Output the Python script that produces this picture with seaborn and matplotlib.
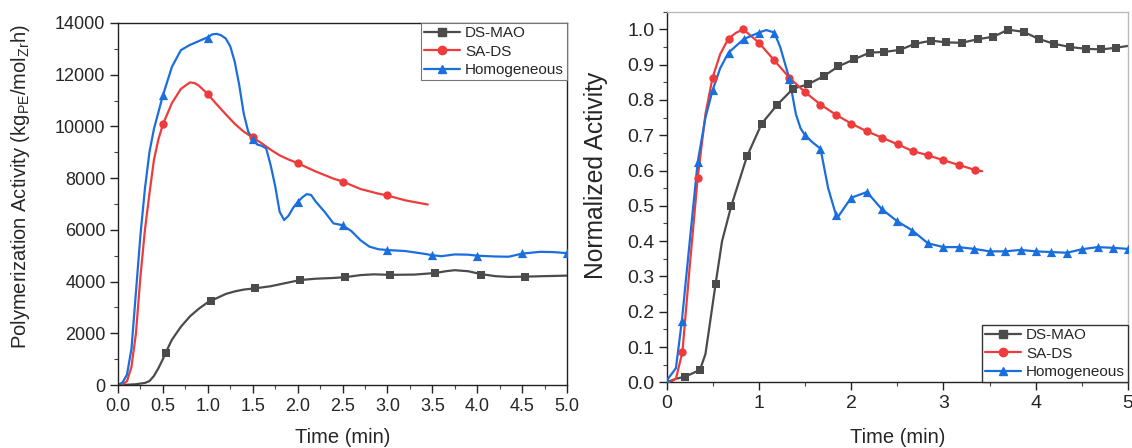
import matplotlib
matplotlib.use("Agg")
import matplotlib.pyplot as plt
from matplotlib.lines import Line2D
from matplotlib.ticker import MultipleLocator
import seaborn as sns

# ---- left panel: polymerization activity (kg_PE / mol_Zr h) ----
homo_t = [0, 0.05, 0.1, 0.15, 0.2, 0.25, 0.3, 0.35, 0.4, 0.5, 0.6, 0.7, 0.8, 0.9, 1.0,
          1.05, 1.1, 1.15, 1.2, 1.25, 1.3, 1.35, 1.4, 1.45, 1.5, 1.55, 1.6, 1.65, 1.7,
          1.75, 1.8, 1.85, 1.9, 1.95, 2.0, 2.05, 2.1, 2.15, 2.2, 2.3, 2.4, 2.5, 2.6,
          2.7, 2.8, 2.9, 3.0, 3.2, 3.4, 3.5, 3.6, 3.75, 3.9, 4.0, 4.2, 4.35, 4.5, 4.7,
          4.85, 5.0]
homo_v = [0, 100, 400, 1400, 3600, 5800, 7600, 9000, 9900, 11200, 12300, 12950, 13150,
          13300, 13450, 13560, 13580, 13520, 13400, 13100, 12500, 11600, 10500, 9800,
          9500, 9300, 9250, 9150, 8500, 7700, 6700, 6380, 6550, 6850, 7070, 7250, 7380,
          7350, 7100, 6700, 6250, 6180, 5950, 5600, 5350, 5250, 5220, 5180, 5080, 5020,
          4980, 5050, 5040, 5000, 4970, 4960, 5080, 5150, 5140, 5100]
homo_mark_t = [0.5, 1.0, 1.5, 2.0, 2.5, 3.0, 3.5, 4.0, 4.5, 5.0]
homo_mark_v = [11200, 13430, 9520, 7070, 6200, 5225, 5010, 5000, 5100, 5100]

sads_t = [0.0, 0.05, 0.1, 0.15, 0.2, 0.25, 0.3, 0.35, 0.4, 0.45, 0.5, 0.6, 0.7, 0.8,
          0.85, 0.9, 1.0, 1.1, 1.2, 1.3, 1.4, 1.5, 1.6, 1.7, 1.8, 1.9, 2.0, 2.2, 2.4,
          2.5, 2.7, 2.9, 3.0, 3.2, 3.45]
sads_v = [0, 20, 150, 700, 2000, 4200, 6000, 7400, 8700, 9500, 10080, 10900, 11450,
          11700, 11680, 11580, 11250, 10850, 10470, 10100, 9800, 9570, 9350, 9100, 8880,
          8720, 8580, 8260, 7980, 7870, 7580, 7400, 7330, 7140, 6980]
sads_mark_t = [0.5, 1.0, 1.5, 2.0, 2.5, 3.0]
sads_mark_v = [10080, 11240, 9590, 8580, 7870, 7330]

dsmao_t = [0, 0.1, 0.2, 0.3, 0.35, 0.4, 0.45, 0.5, 0.53, 0.6, 0.7, 0.8, 0.9, 1.0, 1.04,
           1.1, 1.2, 1.3, 1.4, 1.53, 1.7, 1.85, 2.03, 2.2, 2.4, 2.53, 2.7, 2.85, 3.03,
           3.3, 3.53, 3.65, 3.75, 3.9, 4.04, 4.2, 4.35, 4.53, 4.75, 5.0]
dsmao_v = [0, 10, 30, 80, 150, 350, 650, 1000, 1240, 1750, 2250, 2650, 2950, 3200, 3260,
           3360, 3520, 3620, 3690, 3740, 3820, 3930, 4060, 4110, 4140, 4170, 4250, 4280,
           4260, 4270, 4330, 4400, 4440, 4400, 4290, 4210, 4180, 4190, 4210, 4230]
dsmao_mark_t = [0.53, 1.04, 1.53, 2.03, 2.53, 3.03, 3.53, 4.04, 4.53]
dsmao_mark_v = [1240, 3240, 3740, 4060, 4170, 4260, 4320, 4270, 4190]

# ---- right panel: normalized activity ----
n_dsmao_mark_t = [0.2, 0.36, 0.53, 0.7, 0.87, 1.03, 1.2, 1.37, 1.53, 1.7, 1.86, 2.03,
                  2.2, 2.36, 2.53, 2.69, 2.87, 3.03, 3.2, 3.37, 3.54, 3.7, 3.87, 4.03,
                  4.2, 4.37, 4.54, 4.71, 4.87]
n_dsmao_mark_v = [0.016, 0.035, 0.279, 0.50, 0.64, 0.733, 0.787, 0.832, 0.844, 0.867,
                  0.895, 0.915, 0.934, 0.936, 0.942, 0.959, 0.968, 0.963, 0.962, 0.972,
                  0.979, 0.999, 0.993, 0.973, 0.959, 0.950, 0.945, 0.943, 0.948]
n_dsmao_t = [0, 0.1, 0.2, 0.36, 0.42, 0.47, 0.53, 0.6, 0.7, 0.87, 1.03, 1.2, 1.37, 1.53,
             1.7, 1.86, 2.03, 2.2, 2.36, 2.53, 2.69, 2.87, 3.03, 3.2, 3.37, 3.54, 3.7,
             3.87, 4.03, 4.2, 4.37, 4.54, 4.71, 4.87, 5.0]
n_dsmao_v = [0, 0.01, 0.016, 0.035, 0.08, 0.17, 0.279, 0.40, 0.50, 0.64, 0.733, 0.787,
             0.832, 0.844, 0.867, 0.895, 0.915, 0.934, 0.936, 0.942, 0.959, 0.968, 0.963,
             0.962, 0.972, 0.979, 0.999, 0.993, 0.973, 0.959, 0.950, 0.945, 0.943, 0.948,
             0.953]

n_sads_mark_t = [0.17, 0.336, 0.497, 0.67, 0.83, 1.0, 1.166, 1.33, 1.5, 1.667, 1.835,
                 2.0, 2.17, 2.336, 2.504, 2.668, 2.836, 3.0, 3.165, 3.337]
n_sads_mark_v = [0.085, 0.579, 0.863, 0.974, 1.0, 0.962, 0.912, 0.863, 0.822, 0.787,
                 0.758, 0.733, 0.711, 0.693, 0.674, 0.655, 0.643, 0.629, 0.616, 0.602]
n_sads_t = [0, 0.05, 0.1, 0.17, 0.25, 0.336, 0.42, 0.497, 0.58, 0.67, 0.75, 0.83, 1.0,
            1.166, 1.33, 1.5, 1.667, 1.835, 2.0, 2.17, 2.336, 2.504, 2.668, 2.836, 3.0,
            3.165, 3.337, 3.42]
n_sads_v = [0, 0.002, 0.01, 0.085, 0.33, 0.579, 0.76, 0.863, 0.93, 0.974, 0.99, 1.0,
            0.962, 0.912, 0.863, 0.822, 0.787, 0.758, 0.733, 0.711, 0.693, 0.674, 0.655,
            0.643, 0.629, 0.616, 0.602, 0.598]

n_homo_mark_t = [0, 0.164, 0.336, 0.497, 0.67, 0.833, 1.0, 1.166, 1.33, 1.497, 1.667,
                 1.835, 2.0, 2.17, 2.33, 2.5, 2.664, 2.83, 3.0, 3.165, 3.333, 3.5, 3.67,
                 3.835, 4.0, 4.17, 4.34, 4.5, 4.67, 4.835, 5.0]
n_homo_mark_v = [0.005, 0.173, 0.624, 0.827, 0.934, 0.972, 0.991, 0.991, 0.86, 0.701,
                 0.662, 0.474, 0.523, 0.539, 0.491, 0.456, 0.43, 0.394, 0.383, 0.383,
                 0.378, 0.371, 0.371, 0.375, 0.371, 0.369, 0.367, 0.377, 0.383, 0.381,
                 0.378]
n_homo_t = [0, 0.1, 0.164, 0.25, 0.336, 0.42, 0.497, 0.58, 0.67, 0.833, 1.0, 1.08,
            1.166, 1.23, 1.33, 1.4, 1.45, 1.497, 1.58, 1.667, 1.75, 1.835, 1.86, 2.0,
            2.17, 2.33, 2.5, 2.664, 2.83, 3.0, 3.165, 3.333, 3.5, 3.67, 3.835, 4.0, 4.17,
            4.34, 4.5, 4.67, 4.835, 5.0]
n_homo_v = [0.005, 0.04, 0.173, 0.40, 0.624, 0.75, 0.827, 0.89, 0.934, 0.972, 0.991,
            0.998, 0.991, 0.95, 0.86, 0.76, 0.72, 0.701, 0.68, 0.662, 0.55, 0.474, 0.47,
            0.523, 0.539, 0.491, 0.456, 0.43, 0.394, 0.383, 0.383, 0.378, 0.371, 0.371,
            0.375, 0.371, 0.369, 0.367, 0.377, 0.383, 0.381, 0.378]

labels = ["DS-MAO", "SA-DS", "Homogeneous"]
colors = ["#4b4b4b", "#ee3b3b", "#1b6fdc"]
markers = ["s", "o", "^"]

sns.set_style("ticks")
plt.rcParams["font.family"] = ["Liberation Sans", "DejaVu Sans"]
plt.rcParams["mathtext.fontset"] = "custom"
plt.rcParams["mathtext.rm"] = "Liberation Sans"
plt.rcParams["mathtext.it"] = "Liberation Sans"

fig = plt.figure(figsize=(11.32, 4.48), dpi=100)
W, H = 1132, 448
ax1 = fig.add_axes([118 / W, 1 - 385 / H, (567 - 118) / W, (385 - 23) / H])
ax2 = fig.add_axes([666.7 / W, 1 - 382.3 / H, (1128 - 666.7) / W, (382.3 - 11.7) / H])

sizes = [28, 36, 44]

# left panel
left_lines = [(dsmao_t, dsmao_v, dsmao_mark_t, dsmao_mark_v),
              (sads_t, sads_v, sads_mark_t, sads_mark_v),
              (homo_t, homo_v, homo_mark_t, homo_mark_v)]
for (lt, lv, mt, mv), c, m, s in zip(left_lines, colors, markers, sizes):
    sns.lineplot(x=lt, y=lv, ax=ax1, color=c, lw=1.6, sort=False, estimator=None, legend=False)
    sns.scatterplot(x=mt, y=mv, ax=ax1, color=c, marker=m, s=s, linewidth=0, legend=False, zorder=3)

# right panel
right_lines = [(n_dsmao_t, n_dsmao_v, n_dsmao_mark_t, n_dsmao_mark_v),
               (n_sads_t, n_sads_v, n_sads_mark_t, n_sads_mark_v),
               (n_homo_t, n_homo_v, n_homo_mark_t, n_homo_mark_v)]
for (lt, lv, mt, mv), c, m, s in zip(right_lines, colors, markers, sizes):
    sns.lineplot(x=lt, y=lv, ax=ax2, color=c, lw=1.6, sort=False, estimator=None, legend=False)
    sns.scatterplot(x=mt, y=mv, ax=ax2, color=c, marker=m, s=s, linewidth=0, legend=False, zorder=3)

ax1.set_xlim(0, 5)
ax1.set_ylim(0, 14000)
ax1.xaxis.set_major_locator(MultipleLocator(0.5))
ax1.xaxis.set_minor_locator(MultipleLocator(0.25))
ax1.yaxis.set_major_locator(MultipleLocator(2000))
ax1.yaxis.set_minor_locator(MultipleLocator(1000))
ax1.xaxis.set_major_formatter(matplotlib.ticker.FormatStrFormatter("%.1f"))
ax1.tick_params(axis="x", labelsize=13)
ax1.tick_params(axis="y", labelsize=13)

ax2.set_xlim(0, 5)
ax2.set_ylim(0, 1.05)
ax2.xaxis.set_major_locator(MultipleLocator(1))
ax2.xaxis.set_minor_locator(MultipleLocator(0.5))
ax2.yaxis.set_major_locator(MultipleLocator(0.1))
ax2.yaxis.set_minor_locator(MultipleLocator(0.05))
ax2.yaxis.set_major_formatter(matplotlib.ticker.FormatStrFormatter("%.1f"))
ax2.tick_params(labelsize=14)

for ax in (ax1, ax2):
    ax.tick_params(which="major", direction="out", length=6, width=1, color="#222222", pad=3)
    ax.tick_params(which="minor", direction="out", length=3, width=0.8, color="#444444")
    for sp in ax.spines.values():
        sp.set_visible(True)
        sp.set_linewidth(1.0)
        sp.set_color("#222222")
ax2.spines["top"].set_color("#bbbbbb")
ax2.spines["right"].set_color("#bbbbbb")

ax1.set_xlabel("Time (min)", fontsize=14.5)
ax1.set_ylabel(r"Polymerization Activity (kg$_{\mathrm{PE}}$/mol$_{\mathrm{Zr}}$h)", fontsize=14.5)
ax2.set_xlabel("Time (min)", fontsize=14.5)
ax2.set_ylabel("Normalized Activity", fontsize=17.7)
for ax, xl, yl, ym in ((ax1, -0.145, -0.218, 0.547), (ax2, -0.148, -0.153, 0.559)):
    ax.xaxis.label.set_verticalalignment("center")
    ax.xaxis.set_label_coords(0.5, xl)
    ax.yaxis.label.set_verticalalignment("center")
    ax.yaxis.set_label_coords(yl, ym)

handles = [Line2D([0], [0], color=c, lw=1.6, marker=m, markersize=6, label=l)
           for c, m, l in zip(colors, markers, labels)]
leg_kw = dict(fontsize=11, handlelength=2.4, handletextpad=0.3, labelspacing=0.3,
              borderpad=0.2, borderaxespad=0, fancybox=False, framealpha=1)
lg1 = ax1.legend(handles=handles, loc="upper right", **leg_kw)
lg1.get_frame().set_edgecolor("#777777")
lg1.get_frame().set_linewidth(0.8)
lg2 = ax2.legend(handles=handles, loc="lower right", **leg_kw)
lg2.get_frame().set_edgecolor("#333333")
lg2.get_frame().set_linewidth(1.0)

fig.savefig("out.png", dpi=100)
